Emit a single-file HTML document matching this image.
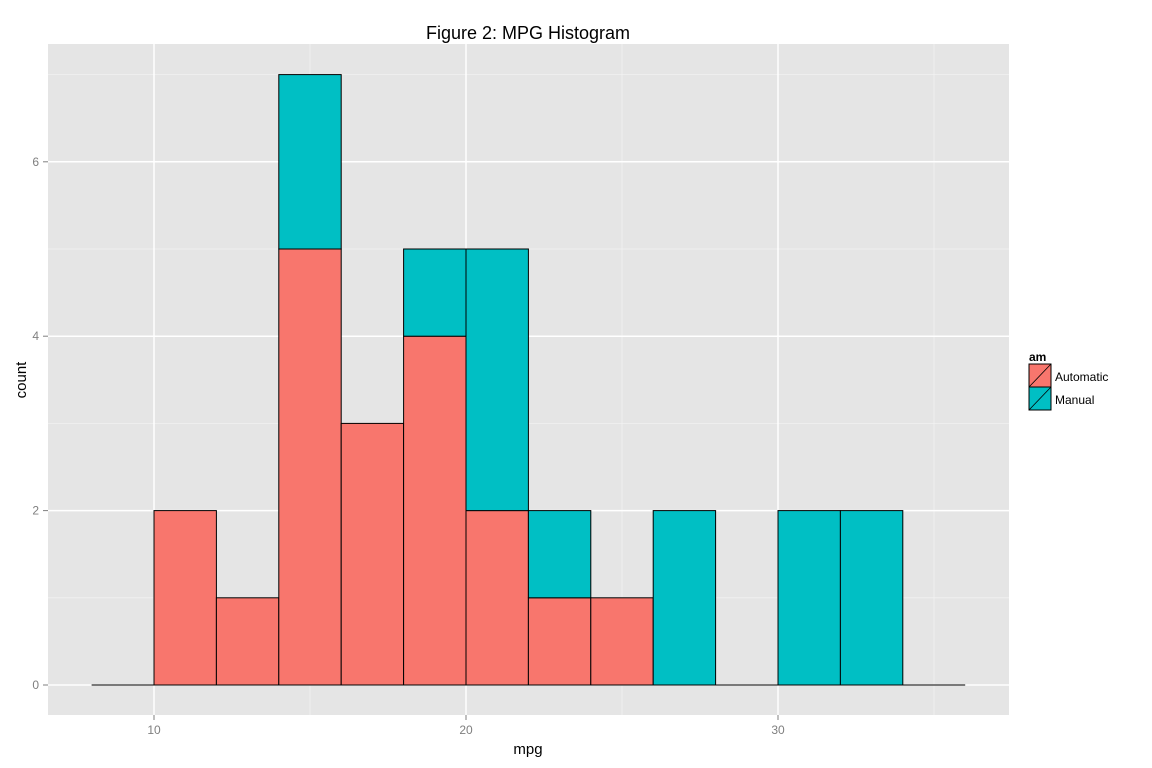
<!DOCTYPE html>
<html><head><meta charset="utf-8"><style>
html,body{margin:0;padding:0;background:#fff}
svg{display:block;font-family:"Liberation Sans",Arial,sans-serif}
</style></head><body>
<svg id="chart" width="1152" height="768" xmlns="http://www.w3.org/2000/svg">
<rect x="48" y="44" width="961" height="671" fill="#e5e5e5"/>
<g id="grid"></g>
<g id="bars"></g>
<g id="axes"></g>
<text x="528" y="39" text-anchor="middle" font-size="18" fill="#000">Figure 2: MPG Histogram</text>
<text x="528" y="754" text-anchor="middle" font-size="15" fill="#000">mpg</text>
<text transform="translate(26,380) rotate(-90)" text-anchor="middle" font-size="15" fill="#000">count</text>
<g>
<text x="1029" y="361" font-size="12" font-weight="bold">am</text>
<g>
<rect x="1029" y="364" width="22" height="23" fill="#f8766d" stroke="#000" stroke-width="1"/>
<line x1="1029" y1="387" x2="1051" y2="364" stroke="#000" stroke-width="0.8"/>
<text x="1055" y="381" font-size="12">Automatic</text></g>
<g>
<rect x="1029" y="387" width="22" height="23" fill="#00bfc4" stroke="#000" stroke-width="1"/>
<line x1="1029" y1="410" x2="1051" y2="387" stroke="#000" stroke-width="0.8"/>
<text x="1055" y="404" font-size="12">Manual</text></g>
</g>
</svg>
<script>
const binStarts = [8,10,12,14,16,18,20,22,24,26,28,30,32,34];
const autoCounts = [0,2,1,5,3,4,2,1,1,0,0,0,0,0];
const manualCounts = [0,0,0,2,0,1,3,1,0,2,0,2,2,0];
const xTicks = [10,20,30];
const xMinor = [5,15,25,35];
const yTicks = [0,2,4,6];
const yMinor = [1,3,5,7];
const binWidth = 2;

const NS="http://www.w3.org/2000/svg";
const X = v => 154 + (v-10)*31.2;
const Y = v => 685 - v*87.2;
const PL=48, PR=1009, PT=44, PB=715;
function mk(tag, attrs, parent){const e=document.createElementNS(NS,tag);for(const k in attrs)e.setAttribute(k,attrs[k]);parent.appendChild(e);return e;}
const grid=document.getElementById('grid'), bars=document.getElementById('bars'), axes=document.getElementById('axes');
xMinor.forEach(v=>{const l=mk('line',{x1:X(v),x2:X(v),y1:PT,y2:PB,stroke:'#f2f2f2','stroke-width':0.8},grid);

});
yMinor.forEach(v=>{const l=mk('line',{x1:PL,x2:PR,y1:Y(v),y2:Y(v),stroke:'#f2f2f2','stroke-width':0.8},grid);

});
xTicks.forEach(v=>{const l=mk('line',{x1:X(v),x2:X(v),y1:PT,y2:PB,stroke:'#fff','stroke-width':1.5},grid);


const t=mk('line',{x1:X(v),x2:X(v),y1:PB,y2:PB+5,stroke:'#7f7f7f','stroke-width':1},axes);


const tx=mk('text',{x:X(v),y:PB+19,'text-anchor':'middle','font-size':12,fill:'#7f7f7f'},axes);tx.textContent=v;

});
yTicks.forEach(v=>{const l=mk('line',{x1:PL,x2:PR,y1:Y(v),y2:Y(v),stroke:'#fff','stroke-width':1.5},grid);


const t=mk('line',{x1:PL-5,x2:PL,y1:Y(v),y2:Y(v),stroke:'#7f7f7f','stroke-width':1},axes);


const tx=mk('text',{x:PL-9,y:Y(v)+4,'text-anchor':'end','font-size':12,fill:'#7f7f7f'},axes);tx.textContent=v;

});
binStarts.forEach((b,i)=>{
  const x0=X(b), w=X(b+binWidth)-X(b), a=autoCounts[i], m=manualCounts[i];
  if(a+m===0){const l=mk('line',{x1:x0,x2:x0+w,y1:Y(0),y2:Y(0),stroke:'#000','stroke-width':1},bars);
    
    return;}
  if(a>0){const r=mk('rect',{x:x0,y:Y(a),width:w,height:Y(0)-Y(a),fill:'#f8766d',stroke:'#000','stroke-width':1},bars);
    
    }
  if(m>0){const r=mk('rect',{x:x0,y:Y(a+m),width:w,height:Y(a)-Y(a+m),fill:'#00bfc4',stroke:'#000','stroke-width':1},bars);
    
    }
});
</script>
</body></html>
